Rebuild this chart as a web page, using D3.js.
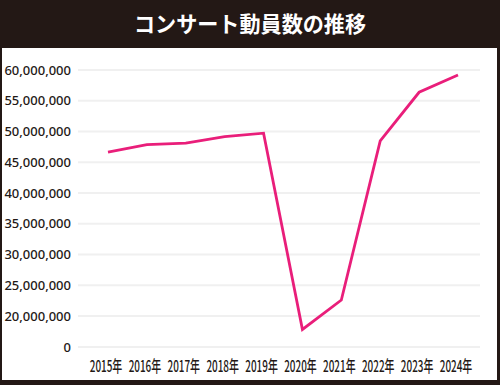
<!DOCTYPE html>
<html>
<head>
<meta charset="utf-8">
<script src="https://cdn.jsdelivr.net/npm/d3@7"></script>
<style>
  body { margin: 0; background: #231815; }
  svg { display: block; }
</style>
</head>
<body>
<div id="chart"></div>
<script>
// data
var years = ["2015年", "2016年", "2017年", "2018年", "2019年", "2020年", "2021年", "2022年", "2023年", "2024年"];
var attendance = [46640000, 47870000, 48100000, 49170000, 49720000, 11300000, 22600000, 48470000, 56380000, 59200000];
var yTicks = [0, 20000000, 25000000, 30000000, 35000000, 40000000, 45000000, 50000000, 55000000, 60000000];
var title = "コンサート動員数の推移";

var svgWidth = 500;
var svgHeight = 385;

var svg = d3.select("#chart")
    .append("svg")
    .attr("width", svgWidth)
    .attr("height", svgHeight);

// frame
svg.append("rect")
    .attr("width", svgWidth)
    .attr("height", svgHeight)
    .attr("fill", "#231815");

svg.append("rect")
    .attr("x", 2)
    .attr("y", 48)
    .attr("width", 495)
    .attr("height", 332)
    .attr("fill", "#ffffff");

svg.append("text")
    .attr("x", 250)
    .attr("y", 32)
    .attr("text-anchor", "middle")
    .attr("font-family", "Noto Sans CJK JP")
    .attr("font-weight", "bold")
    .attr("font-size", "22px")
    .attr("fill", "#ffffff")
    .attr("textLength", 232)
    .attr("lengthAdjust", "spacingAndGlyphs")
    .text(title);

// scales: axis jumps from 0 straight to 20,000,000
var xScale = d3.scalePoint()
    .domain(years)
    .range([108, 458]);

var yScale = d3.scaleLinear()
    .domain([0, 20000000, 60000000])
    .range([347, 316, 70]);

// gridlines
svg.append("g")
    .selectAll("line")
    .data(yTicks)
    .enter()
    .append("line")
    .attr("x1", 78)
    .attr("x2", 480)
    .attr("y1", d => yScale(d))
    .attr("y2", d => yScale(d))
    .attr("stroke", "#f0f0f0")
    .attr("stroke-width", 2);

// y labels
svg.append("g")
    .selectAll("text")
    .data(yTicks)
    .enter()
    .append("text")
    .attr("x", 71)
    .attr("y", d => yScale(d))
    .attr("dy", "0.36em")
    .attr("text-anchor", "end")
    .attr("font-family", "Noto Sans")
    .attr("font-weight", 500)
    .attr("font-size", "13px")
    .attr("fill", "#231815")
    .text(d => d3.format(",")(d));

// x labels (condensed look)
svg.append("g")
    .selectAll("text")
    .data(years)
    .enter()
    .append("text")
    .attr("transform", d => `translate(${xScale(d) - 2}, 372) scale(0.62, 1)`)
    .attr("text-anchor", "middle")
    .attr("font-family", "Noto Sans CJK JP")
    .attr("font-weight", 500)
    .attr("font-size", "16px")
    .attr("fill", "#231815")
    .text(d => d);

// line
var line = d3.line()
    .x((d, i) => xScale(years[i]))
    .y(d => yScale(d));

svg.append("path")
    .datum(attendance)
    .attr("d", line)
    .attr("fill", "none")
    .attr("stroke", "#e91e7a")
    .attr("stroke-width", 2.8)
    .attr("stroke-linejoin", "miter");
</script>
</body>
</html>
